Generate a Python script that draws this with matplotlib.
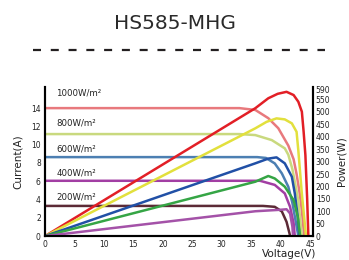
import matplotlib
matplotlib.use("Agg")
import matplotlib.pyplot as plt
from matplotlib.lines import Line2D

# I-V curves (voltage V, current A)
iv_1000_v = [0, 33, 35.7, 37.9, 39.6, 41.3, 42.2, 42.7, 43.2, 43.6, 44.0]
iv_1000_i = [14.0, 14.0, 13.8, 12.9, 11.8, 9.9, 8.4, 6.8, 4.8, 2.8, 0]
iv_800_v = [0, 33, 35.7, 38.5, 40.7, 41.3, 42.0, 43.0, 43.6]
iv_800_i = [11.16, 11.16, 11.05, 10.5, 9.6, 8.9, 7.3, 3.9, 0]
iv_600_v = [0, 36, 37.5, 39.0, 40.2, 41.3, 42.0, 42.5, 43.0]
iv_600_i = [8.64, 8.64, 8.55, 7.95, 6.86, 5.4, 3.6, 1.8, 0]
iv_400_v = [0, 36.5, 39.0, 40.7, 41.6, 42.2, 42.4]
iv_400_i = [6.05, 6.05, 5.6, 4.67, 3.2, 1.4, 0]
iv_200_v = [0, 37, 39.0, 40.2, 41.0, 41.5, 41.6]
iv_200_i = [3.3, 3.3, 3.2, 2.7, 1.56, 0.3, 0]

# P-V curves (voltage V, power W)
pv_1000_v = [0, 35.7, 37.9, 39.5, 41.0, 42.2, 43.0, 43.6, 43.9, 44.2, 44.5, 44.7]
pv_1000_p = [0, 515, 555, 573, 581, 568, 541, 501, 420, 326, 150, 0]
pv_800_v = [0, 35.7, 37.6, 39.3, 40.7, 41.9, 42.7, 43.0, 43.6, 44.3]
pv_800_p = [0, 434, 460, 474, 470, 454, 420, 345, 170, 0]
pv_600_v = [0, 35.7, 37.9, 39.3, 40.7, 41.9, 42.4, 42.9, 43.2]
pv_600_p = [0, 293, 312, 317, 293, 239, 172, 78, 0]
pv_400_v = [0, 35.7, 37.9, 39.0, 40.7, 42.2, 42.9, 43.3]
pv_400_p = [0, 219, 242, 232, 199, 145, 78, 0]
pv_200_v = [0, 35.7, 40.0, 41.0, 41.6, 42.0, 42.1]
pv_200_p = [0, 100, 106, 108, 91, 37, 0]

labels = ["1000W/m²", "800W/m²", "600W/m²", "400W/m²", "200W/m²"]
label_y = [15.6, 12.4, 9.5, 6.9, 4.3]

iv_colors = ["#e8797d", "#c9d97e", "#4c7fb2", "#a23ea3", "#5c2a36"]
pv_colors = ["#e21f26", "#e2e03d", "#2150a6", "#35a545", "#a452a8"]

fig = plt.figure(figsize=(3.49, 2.6), dpi=100)
ax = fig.add_axes([0.129, 0.092, 0.768, 0.573])
ax2 = ax.twinx()

iv = [(iv_1000_v, iv_1000_i), (iv_800_v, iv_800_i), (iv_600_v, iv_600_i),
      (iv_400_v, iv_400_i), (iv_200_v, iv_200_i)]
pv = [(pv_1000_v, pv_1000_p), (pv_800_v, pv_800_p), (pv_600_v, pv_600_p),
      (pv_400_v, pv_400_p), (pv_200_v, pv_200_p)]

for (v, i), c in zip(iv, iv_colors):
    ax.plot(v, i, color=c, lw=1.8, solid_joinstyle="round")
for (v, p), c in zip(pv, pv_colors):
    ax2.plot(v, p, color=c, lw=1.8, solid_joinstyle="round")

for lab, y in zip(labels, label_y):
    ax.text(1.9, y, lab, fontsize=6.2, color="#222222", va="center")

ax.set_xlim(0, 45.5)
ax.set_ylim(0, 16.3)
ax2.set_ylim(0, 600)
ax.set_xticks(range(0, 46, 5))
ax.set_yticks(range(0, 15, 2))
ax2.set_yticks(list(range(0, 551, 50)) + [590])

for a in (ax, ax2):
    a.spines["top"].set_visible(False)
    for s in ("left", "bottom", "right"):
        a.spines[s].set_linewidth(1.5)
        a.spines[s].set_color("black")
ax.tick_params(length=0, labelsize=5.5, pad=3, colors="#222222")
ax2.tick_params(length=0, labelsize=5.5, pad=2, colors="#222222")

ax.set_ylabel("Current(A)", fontsize=7.5, color="#222222", labelpad=6)
ax2.set_ylabel("Power(W)", fontsize=7.5, color="#222222", labelpad=4)
ax.set_xlabel("Voltage(V)", fontsize=7.5, color="#222222", labelpad=0)
ax.xaxis.set_label_coords(0.91, -0.085)

fig.text(0.5, 0.91, "HS585-MHG", ha="center", va="center", fontsize=14.5,
         color="#2a2a2a")
fig.add_artist(Line2D([0.095, 0.93], [0.808, 0.808], transform=fig.transFigure,
                      color="#231f20", lw=1.6, dashes=(3.6, 4.4)))

fig.savefig("out.png", dpi=100)
